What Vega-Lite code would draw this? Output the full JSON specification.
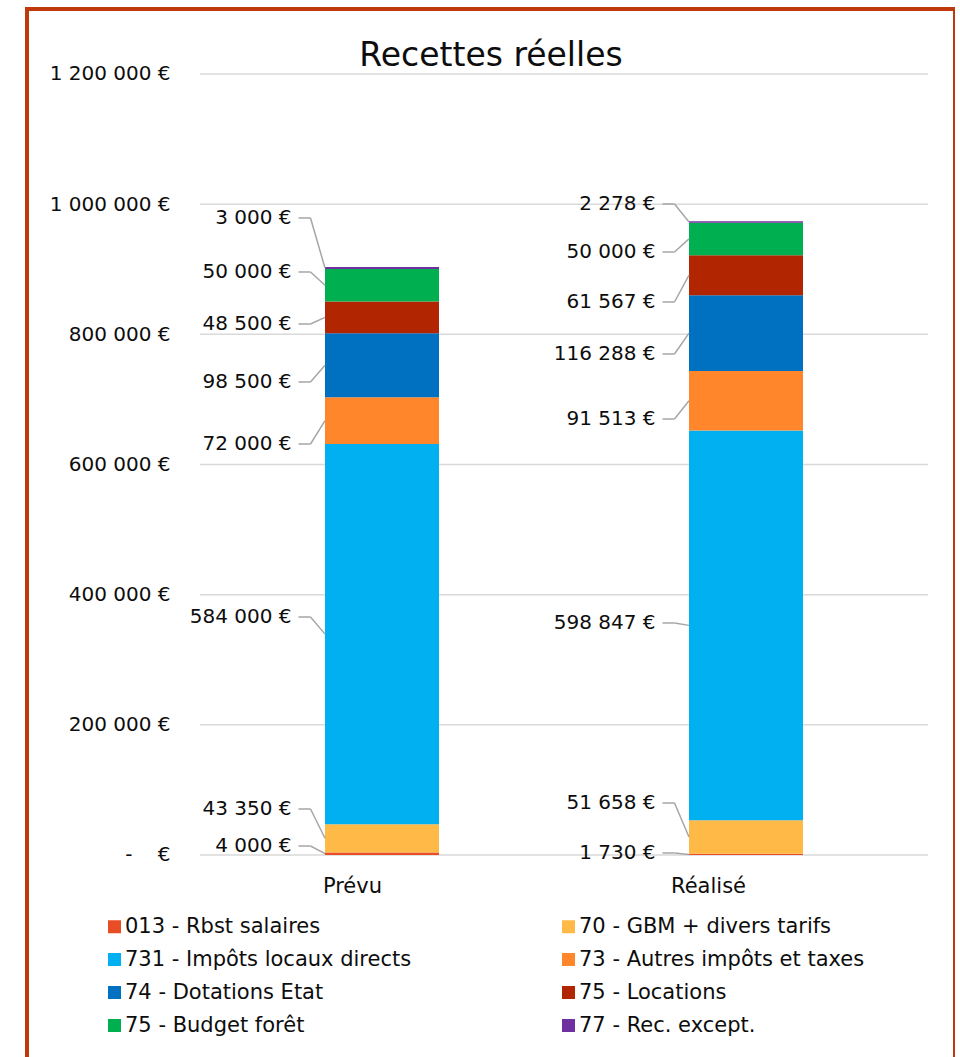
{
  "$schema": "https://vega.github.io/schema/vega-lite/v6.json",
  "width": 928,
  "height": 1060,
  "autosize": {"type": "none"},
  "padding": {"left": 27, "top": 9, "right": 0, "bottom": 0},
  "background": "white",
  "title": {
    "text": "Recettes réelles",
    "fontSize": 33,
    "font": "DejaVu Sans",
    "fontWeight": "normal",
    "color": "#0d0d0d",
    "anchor": "middle",
    "frame": "group",
    "offset": -53,
    "dy": 37,
    "baseline": "alphabetic"
  },
  "datasets": {
    "recettes": [
      {"Budget": "Prévu", "ord": 1, "Cat": "013 - Rbst salaires", "v": 4000, "labelPos": 13800},
      {"Budget": "Prévu", "ord": 2, "Cat": "70 - GBM + divers tarifs", "v": 43350, "labelPos": 70700},
      {"Budget": "Prévu", "ord": 3, "Cat": "731 - Impôts locaux directs", "v": 584000, "labelPos": 365700},
      {"Budget": "Prévu", "ord": 4, "Cat": "73 - Autres impôts et taxes", "v": 72000, "labelPos": 631500},
      {"Budget": "Prévu", "ord": 5, "Cat": "74 - Dotations Etat", "v": 98500, "labelPos": 726800},
      {"Budget": "Prévu", "ord": 6, "Cat": "75 - Locations", "v": 48500, "labelPos": 815900},
      {"Budget": "Prévu", "ord": 7, "Cat": "75 - Budget forêt", "v": 50000, "labelPos": 895800},
      {"Budget": "Prévu", "ord": 8, "Cat": "77 - Rec. except.", "v": 3000, "labelPos": 978800},
      {"Budget": "Réalisé", "ord": 1, "Cat": "013 - Rbst salaires", "v": 1730, "labelPos": 3100},
      {"Budget": "Réalisé", "ord": 2, "Cat": "70 - GBM + divers tarifs", "v": 51658, "labelPos": 79900},
      {"Budget": "Réalisé", "ord": 3, "Cat": "731 - Impôts locaux directs", "v": 598847, "labelPos": 356500},
      {"Budget": "Réalisé", "ord": 4, "Cat": "73 - Autres impôts et taxes", "v": 91513, "labelPos": 669900},
      {"Budget": "Réalisé", "ord": 5, "Cat": "74 - Dotations Etat", "v": 116288, "labelPos": 769800},
      {"Budget": "Réalisé", "ord": 6, "Cat": "75 - Locations", "v": 61567, "labelPos": 849700},
      {"Budget": "Réalisé", "ord": 7, "Cat": "75 - Budget forêt", "v": 50000, "labelPos": 926500},
      {"Budget": "Réalisé", "ord": 8, "Cat": "77 - Rec. except.", "v": 2278, "labelPos": 1000300}
    ],
    "grid": [
      {"t": 0, "from": "Prévu", "to": "Réalisé"},
      {"t": 200000, "from": "Prévu", "to": "Réalisé"},
      {"t": 400000, "from": "Prévu", "to": "Réalisé"},
      {"t": 600000, "from": "Prévu", "to": "Réalisé"},
      {"t": 800000, "from": "Prévu", "to": "Réalisé"},
      {"t": 1000000, "from": "Prévu", "to": "Réalisé"},
      {"t": 1200000, "from": "Prévu", "to": "Réalisé"}
    ]
  },
  "layer": [
    {
      "data": {"name": "grid"},
      "mark": {"type": "rule", "stroke": "#d9d9d9", "strokeWidth": 1.5},
      "encoding": {
        "x": {"field": "from", "type": "nominal", "bandPosition": 0},
        "x2": {"field": "to", "bandPosition": 1},
        "y": {"field": "t", "type": "quantitative"}
      }
    },
    {
      "data": {"name": "recettes"},
      "transform": [
        {"stack": "v", "groupby": ["Budget"], "sort": [{"field": "ord", "order": "ascending"}], "as": ["v0", "v1"]},
        {"calculate": "(datum.v0 + datum.v1) / 2", "as": "mid"}
      ],
      "layer": [
        {
          "mark": {"type": "bar", "width": {"band": 0.3132}},
          "encoding": {
            "x": {
              "field": "Budget",
              "type": "nominal",
              "scale": {"domain": ["Prévu", "Réalisé"], "paddingInner": 0, "paddingOuter": 0.27473, "align": 0.865},
              "axis": {
                "title": null,
                "orient": "bottom",
                "domain": false,
                "ticks": false,
                "tickSize": 0,
                "grid": false,
                "labelAngle": 0,
                "labelFontSize": 21,
                "labelFont": "DejaVu Sans",
                "labelColor": "#0d0d0d",
                "labelPadding": 31,
                "offset": -214
              }
            },
            "y": {
              "field": "v1",
              "type": "quantitative",
              "scale": {"domain": [-328810, 1299872], "nice": false, "zero": false},
              "axis": {
                "title": null,
                "orient": "left",
                "values": [0, 200000, 400000, 600000, 800000, 1000000, 1200000],
                "format": "$,.0f",
                "labelExpr": "datum.value === 0 ? '-\u00a0\u00a0\u00a0\u00a0€' : datum.label",
                "domain": false,
                "ticks": false,
                "tickSize": 0,
                "grid": false,
                "labelFontSize": 20,
                "labelFont": "DejaVu Sans",
                "labelColor": "#0d0d0d",
                "labelPadding": 0,
                "offset": -143
              }
            },
            "y2": {"field": "v0"},
            "color": {
              "field": "Cat",
              "type": "nominal",
              "scale": {
                "domain": ["013 - Rbst salaires", "70 - GBM + divers tarifs", "731 - Impôts locaux directs", "73 - Autres impôts et taxes", "74 - Dotations Etat", "75 - Locations", "75 - Budget forêt", "77 - Rec. except."],
                "range": ["#E84D25", "#FFB946", "#00B0F0", "#FF862A", "#0070C0", "#B12600", "#00B050", "#7030A0"]
              },
              "legend": {
                "title": null,
                "orient": "none",
                "direction": "horizontal",
                "legendX": 77,
                "legendY": 907,
                "columns": 2,
                "columnPadding": 146,
                "rowPadding": 11,
                "symbolType": "square",
                "symbolSize": 169,
                "symbolStrokeWidth": 0,
                "labelFontSize": 21,
                "labelFont": "DejaVu Sans",
                "labelColor": "#0d0d0d",
                "labelOffset": 0,
                "labelLimit": 0,
                "padding": 0
              }
            }
          }
        },
        {
          "mark": {"type": "rule", "stroke": "#a6a6a6", "strokeWidth": 1.5},
          "encoding": {
            "x": {"field": "Budget", "type": "nominal", "bandPosition": 0.2706},
            "x2": {"field": "Budget", "bandPosition": 0.3036},
            "y": {"field": "labelPos", "type": "quantitative"}
          }
        },
        {
          "mark": {"type": "rule", "stroke": "#a6a6a6", "strokeWidth": 1.5},
          "encoding": {
            "x": {"field": "Budget", "type": "nominal", "bandPosition": 0.3036},
            "x2": {"field": "Budget", "bandPosition": 0.3434},
            "y": {"field": "labelPos", "type": "quantitative"},
            "y2": {"field": "mid"}
          }
        },
        {
          "mark": {"type": "text", "align": "right", "baseline": "middle", "fontSize": 20, "font": "DejaVu Sans", "color": "#0d0d0d"},
          "encoding": {
            "x": {"field": "Budget", "type": "nominal", "bandPosition": 0.2514},
            "y": {"field": "labelPos", "type": "quantitative"},
            "text": {"field": "v", "type": "quantitative", "format": "$,.0f"}
          }
        }
      ]
    }
  ],
  "config": {
    "font": "DejaVu Sans",
    "view": {"stroke": "#C0390C", "strokeWidth": 4, "fill": "white"},
    "locale": {
      "number": {"decimal": ",", "thousands": "\u00a0", "grouping": [3], "currency": ["", "\u00a0€"]}
    }
  }
}
